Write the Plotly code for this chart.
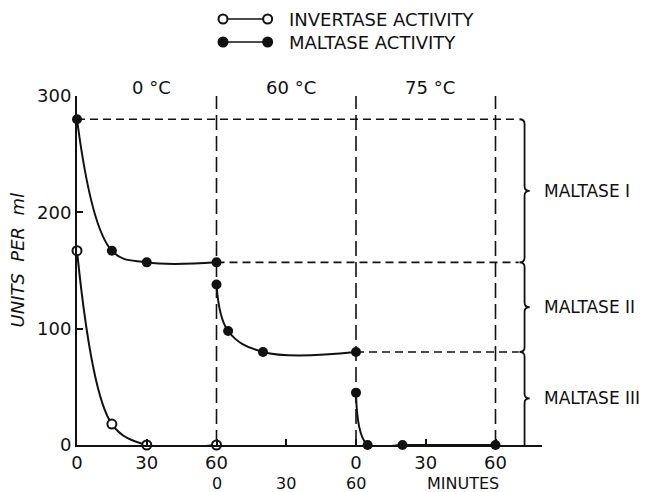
import plotly.graph_objects as go

# ---------------- data ----------------
# cumulative minutes: 0-60 at 0 °C, 60-120 at 60 °C, 120-180 at 75 °C
invertase_t = [0, 15, 30, 60]
invertase_v = [167, 18, 0, 0]

maltase_0c_t = [0, 15, 30, 60]
maltase_0c_v = [280, 167, 157, 157]

maltase_60c_t = [60, 65, 80, 120]
maltase_60c_v = [138, 98, 80, 80]

maltase_75c_t = [120, 125, 140, 180]
maltase_75c_v = [45, 0, 0, 0]

stage_bounds = [0, 60, 120, 180]
stage_labels = ["0 °C", "60 °C", "75 °C"]

maltase_levels = [280, 157, 80, 0]
fraction_labels = ["MALTASE I", "MALTASE II", "MALTASE III"]

x_tickvals = [0, 30, 60, 90, 120, 150, 180]
x_ticktext_row1 = ["0", "30", "60", "", "0", "30", "60"]
x_row2_vals = [60, 90, 120]
x_row2_text = ["0", "30", "60"]
y_tickvals = [0, 100, 200, 300]

FONT = "DejaVu Sans"
INK = "#111111"

# ---------------- figure ----------------
fig = go.Figure()

# vertical dashed stage boundaries
for xb in stage_bounds[1:]:
    fig.add_shape(type="line", xref="x", yref="y", x0=xb, x1=xb, y0=0, y1=300,
                  line=dict(color=INK, width=1.6, dash="15px,6px"), layer="below")

# horizontal dashed plateau levels
BRACE_X = 192.5
for lvl, x0 in zip(maltase_levels[:-1], stage_bounds[:-1]):
    fig.add_shape(type="line", xref="x", yref="y", x0=x0, x1=BRACE_X - 2.5, y0=lvl, y1=lvl,
                  line=dict(color=INK, width=1.6, dash="8px,5px"), layer="below")

# brace path
d = 4.0
h = 2.2
path = f"M {BRACE_X - h},{maltase_levels[0]} Q {BRACE_X},{maltase_levels[0]} {BRACE_X},{maltase_levels[0] - d}"
for i in range(len(maltase_levels) - 1):
    top, bot = maltase_levels[i], maltase_levels[i + 1]
    mid = (top + bot) / 2
    path += f" L {BRACE_X},{mid + d} Q {BRACE_X},{mid} {BRACE_X + h},{mid} Q {BRACE_X},{mid} {BRACE_X},{mid - d}"
    if bot > 0:
        path += f" L {BRACE_X},{bot + d} Q {BRACE_X},{bot} {BRACE_X - h},{bot} Q {BRACE_X},{bot} {BRACE_X},{bot - d}"
    else:
        path += f" L {BRACE_X},{bot}"
fig.add_shape(type="path", xref="x", yref="y", path=path, line=dict(color=INK, width=1.8))

# fraction labels
for i, lab in enumerate(fraction_labels):
    mid = (maltase_levels[i] + maltase_levels[i + 1]) / 2
    fig.add_annotation(x=1.0, y=mid, xref="paper", yref="y", text=lab, showarrow=False,
                       xanchor="left", yanchor="middle", font=dict(family=FONT, size=17, color=INK))

# stage labels
for i, lab in enumerate(stage_labels):
    fig.add_annotation(x=(stage_bounds[i] + stage_bounds[i + 1]) / 2 + 2, y=1.025, xref="x", yref="paper",
                       text=lab, showarrow=False, xanchor="center", yanchor="middle",
                       font=dict(family=FONT, size=18, color=INK))

# traces
fig.add_trace(go.Scatter(x=invertase_t, y=invertase_v, mode="lines+markers", name="INVERTASE ACTIVITY",
                         line=dict(color=INK, width=2, shape="spline", smoothing=1.0),
                         marker=dict(symbol="circle", size=9, color="white", line=dict(color=INK, width=2)),
                         cliponaxis=False, showlegend=False))
for tx, vy in [(maltase_0c_t, maltase_0c_v), (maltase_60c_t, maltase_60c_v), (maltase_75c_t, maltase_75c_v)]:
    fig.add_trace(go.Scatter(x=tx, y=vy, mode="lines+markers", name="MALTASE ACTIVITY",
                             line=dict(color=INK, width=2, shape="spline", smoothing=1.1),
                             marker=dict(symbol="circle", size=10, color=INK),
                             cliponaxis=False, showlegend=False))

# second row of x tick labels
for xv, tx in zip(x_row2_vals, x_row2_text):
    fig.add_annotation(x=xv, y=-0.109, xref="x", yref="paper", text=tx, showarrow=False,
                       xanchor="center", yanchor="middle", font=dict(family=FONT, size=16, color=INK))
fig.add_annotation(x=166, y=-0.109, xref="x", yref="paper", text="MINUTES", showarrow=False,
                   xanchor="center", yanchor="middle", font=dict(family=FONT, size=16, color=INK))

# y-axis title
fig.add_annotation(x=-0.128, y=0.53, xref="paper", yref="paper", text="UNITS  PER  ml", textangle=-90,
                   showarrow=False, xanchor="center", yanchor="middle",
                   font=dict(family=FONT, size=18, color=INK, style="italic"))

# manual legend
legend_rows = [("INVERTASE ACTIVITY", "white", 1.2206), ("MALTASE ACTIVITY", INK, 1.1547)]
for text, fillc, yy in legend_rows:
    fig.add_shape(type="line", xref="paper", yref="paper", x0=0.314, x1=0.41, y0=yy, y1=yy,
                  line=dict(color=INK, width=1.6))
    for xx in (0.314, 0.41):
        fig.add_shape(type="circle", xref="paper", yref="paper", xsizemode="pixel", ysizemode="pixel",
                      xanchor=xx, yanchor=yy, x0=-4.5, x1=4.5, y0=-4.5, y1=4.5,
                      fillcolor=fillc, line=dict(color=INK, width=2))
    fig.add_annotation(x=0.4516, y=yy, xref="paper", yref="paper", text=text, showarrow=False,
                       xanchor="left", yanchor="middle", font=dict(family=FONT, size=18, color=INK))

fig.update_layout(
    width=647, height=492,
    margin=dict(l=77, r=105, t=96, b=47, pad=0),
    paper_bgcolor="white", plot_bgcolor="white",
    font=dict(family=FONT, size=18, color=INK),
    showlegend=False,
)
fig.update_xaxes(range=[0, 200], showgrid=False, zeroline=False, showline=True, linecolor=INK, linewidth=2,
                 ticks="inside", ticklen=6, tickwidth=2, tickcolor=INK,
                 tickvals=x_tickvals, ticktext=x_ticktext_row1, tickfont=dict(family=FONT, size=18, color=INK),
                 ticklabelstandoff=0)
fig.update_yaxes(range=[0, 300], showgrid=False, zeroline=False, showline=True, linecolor=INK, linewidth=2,
                 ticks="inside", ticklen=6, tickwidth=2, tickcolor=INK,
                 tickvals=y_tickvals, tickfont=dict(family=FONT, size=18, color=INK),
                 ticklabelstandoff=0)

fig.write_html("out.html", config={"displayModeBar": False},
               post_script="document.body.style.margin='0';document.body.style.overflow='hidden';")
